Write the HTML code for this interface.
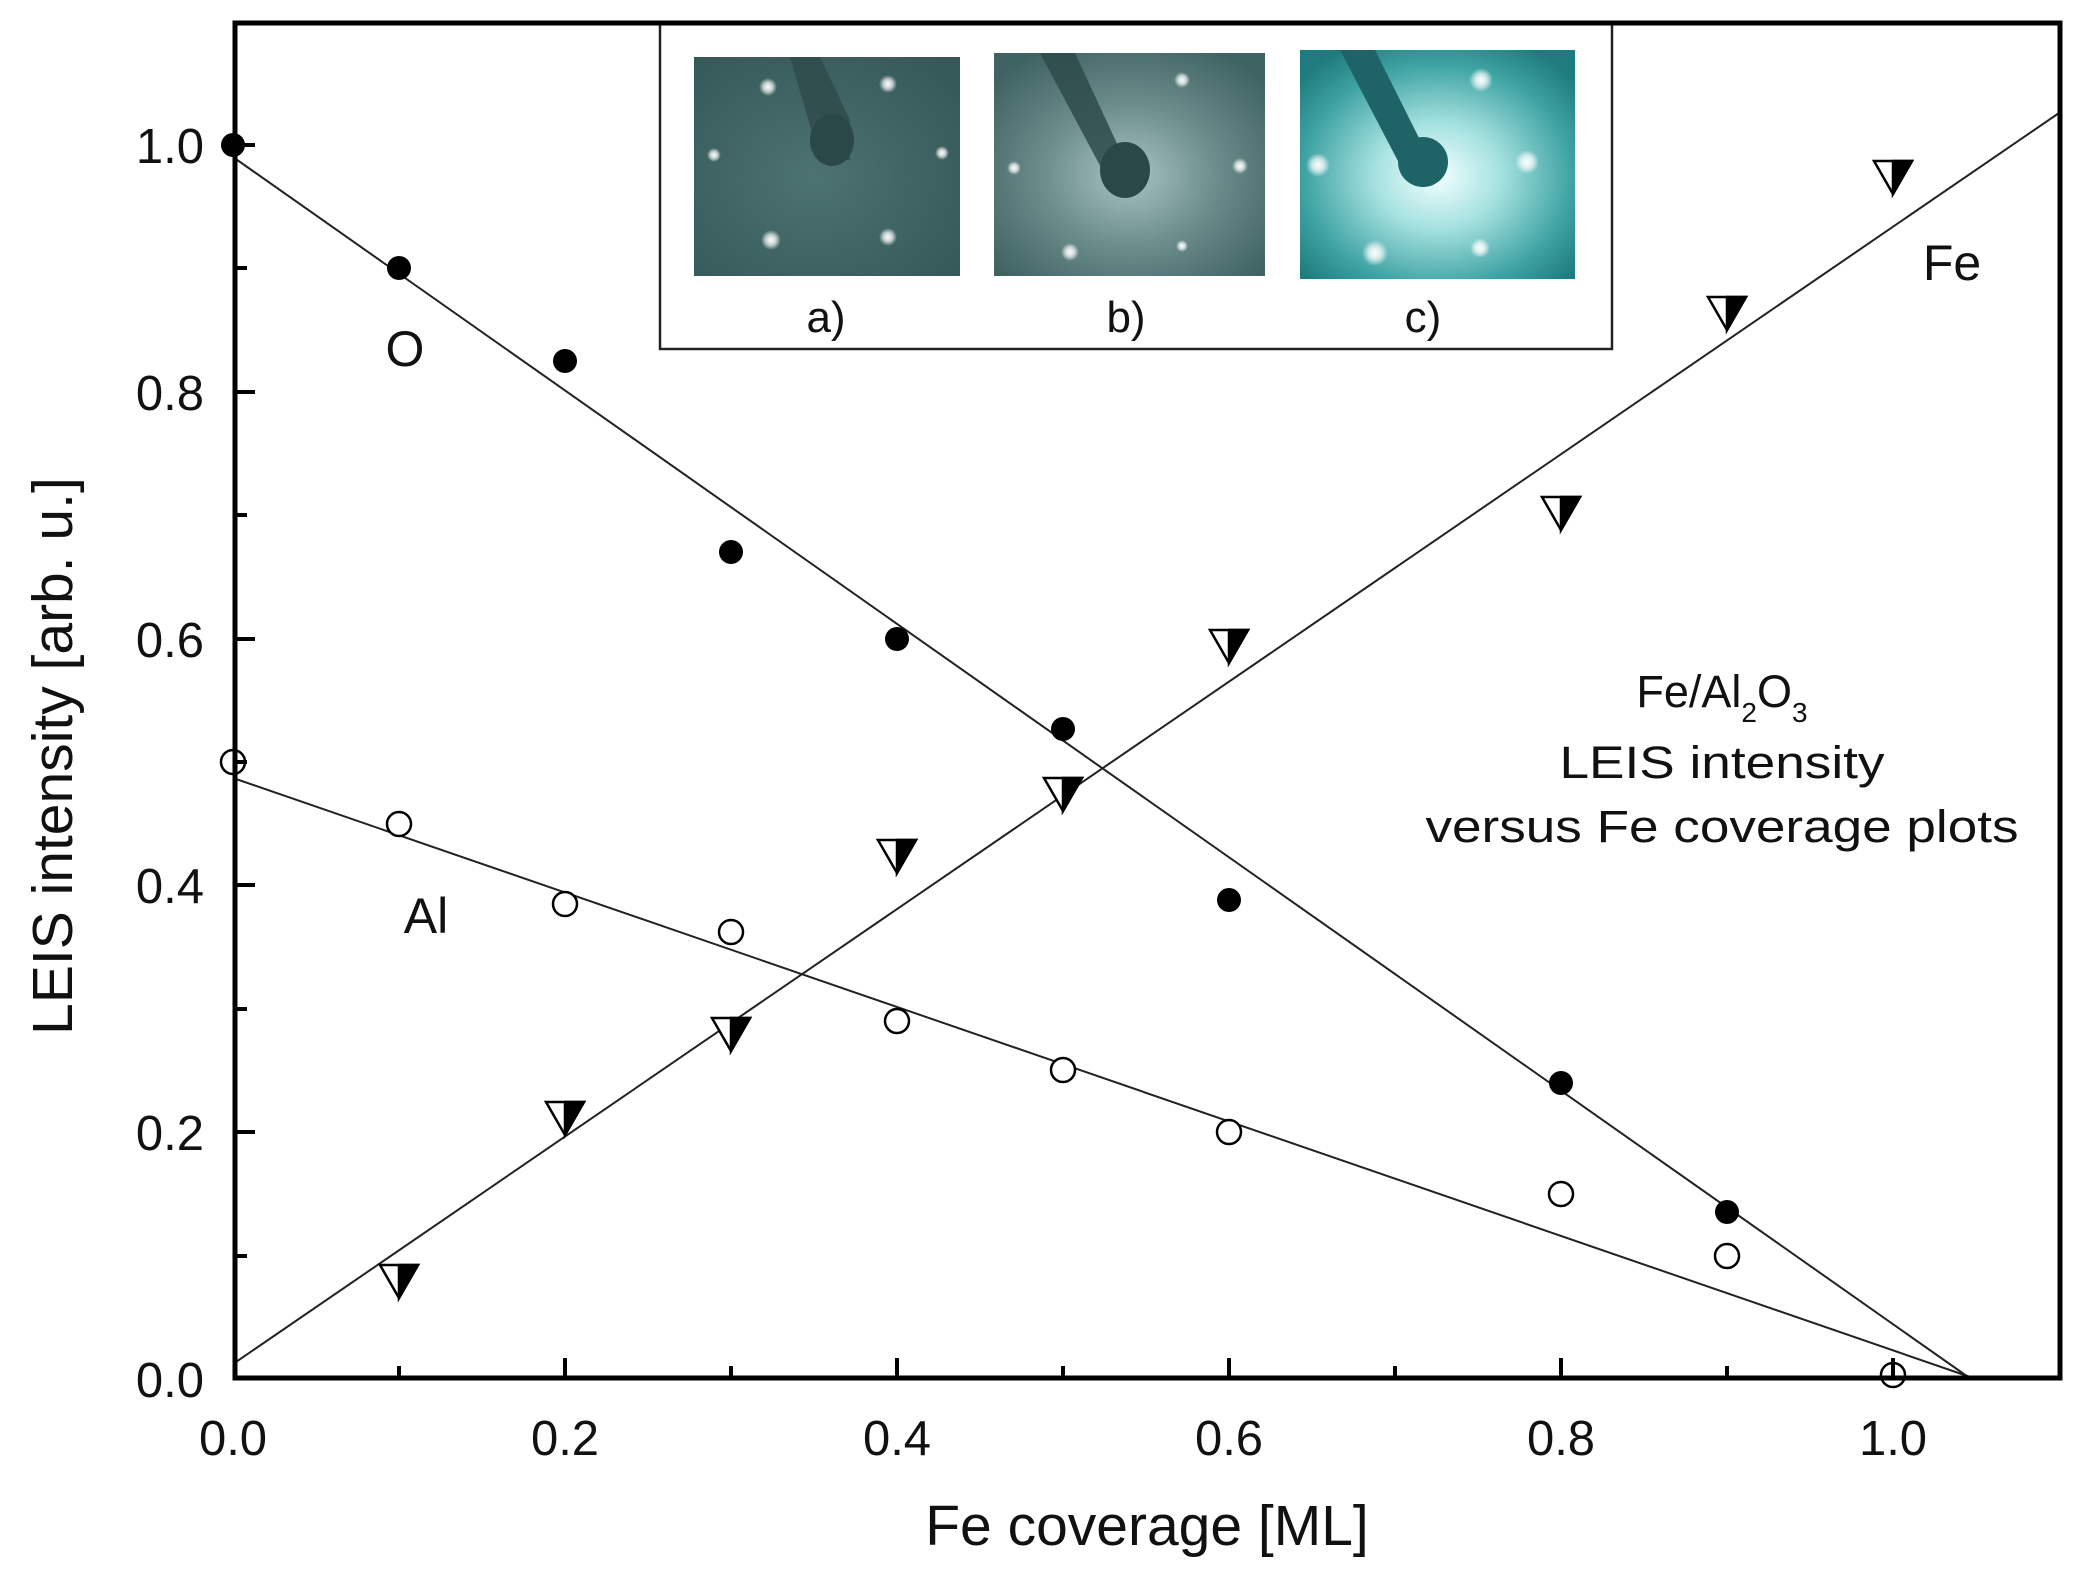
<!DOCTYPE html>
<html><head><meta charset="utf-8"><style>
html,body{margin:0;padding:0;background:#fff;}
svg{display:block;font-family:"Liberation Sans",Arial,sans-serif;}
</style></head><body>
<svg width="2080" height="1589" viewBox="0 0 2080 1589" xmlns="http://www.w3.org/2000/svg">
<defs>
<radialGradient id="ga" cx="0.45" cy="0.55" r="0.7"><stop offset="0" stop-color="#4d7272"/><stop offset="1" stop-color="#355858"/></radialGradient>
<radialGradient id="gb" cx="0.5" cy="0.55" r="0.65"><stop offset="0" stop-color="#a9c4c2"/><stop offset="0.5" stop-color="#6a8c8b"/><stop offset="1" stop-color="#3f6262"/></radialGradient>
<radialGradient id="gc" cx="0.5" cy="0.55" r="0.65"><stop offset="0" stop-color="#f2ffff"/><stop offset="0.35" stop-color="#a6e2e0"/><stop offset="0.75" stop-color="#3fa3a3"/><stop offset="1" stop-color="#1f7c7e"/></radialGradient>
<radialGradient id="spot"><stop offset="0" stop-color="#fff"/><stop offset="0.5" stop-color="#fff" stop-opacity="0.7"/><stop offset="1" stop-color="#fff" stop-opacity="0"/></radialGradient>
</defs>

<rect x="660" y="24" width="952" height="325" fill="#fff" stroke="#222" stroke-width="2.5"/>
<rect x="694" y="57" width="266" height="219" fill="url(#ga)"/>
<path d="M790 57 L820 57 L850 120 L850 160 L820 160 Z" fill="#2d4a4a" opacity="0.8"/>
<ellipse cx="832" cy="140" rx="22" ry="26" fill="#2b4848"/>
<g fill="url(#spot)"><circle cx="768" cy="87" r="9"/><circle cx="888" cy="84" r="9"/><circle cx="714" cy="155" r="7"/><circle cx="942" cy="153" r="7"/><circle cx="771" cy="240" r="10"/><circle cx="888" cy="237" r="9"/></g>
<rect x="994" y="53" width="271" height="223" fill="url(#gb)"/>
<path d="M1040 53 L1075 53 L1120 150 L1105 175 Z" fill="#2d4a4a" opacity="0.85"/>
<ellipse cx="1125" cy="170" rx="25" ry="28" fill="#2b4848"/>
<g fill="url(#spot)"><circle cx="1182" cy="80" r="8"/><circle cx="1014" cy="168" r="7"/><circle cx="1240" cy="166" r="8"/><circle cx="1070" cy="252" r="9"/><circle cx="1182" cy="246" r="6"/></g>
<rect x="1300" y="50" width="275" height="229" fill="url(#gc)"/>
<path d="M1340 50 L1375 50 L1420 140 L1400 165 Z" fill="#1e6466"/>
<ellipse cx="1423" cy="162" rx="25" ry="25" fill="#1e6466"/>
<g fill="url(#spot)"><circle cx="1481" cy="80" r="12"/><circle cx="1318" cy="165" r="12"/><circle cx="1527" cy="162" r="12"/><circle cx="1375" cy="253" r="13"/><circle cx="1480" cy="248" r="10"/></g>
<g font-size="44" text-anchor="middle" fill="#111"><text x="826" y="332">a)</text><text x="1126" y="332">b)</text><text x="1423" y="332">c)</text></g>

<g stroke="#222" stroke-width="2" fill="none">
<line x1="233" y1="157" x2="1971" y2="1379"/>
<line x1="233" y1="778" x2="1976" y2="1379"/>
<line x1="233" y1="1364" x2="2059" y2="113"/>
</g>

<g fill="#000">
<circle cx="233" cy="145" r="12"/><circle cx="399" cy="268" r="12"/><circle cx="565" cy="361" r="12"/><circle cx="731" cy="552" r="12"/><circle cx="897" cy="639" r="12"/><circle cx="1063" cy="729" r="12"/><circle cx="1229" cy="900" r="12"/><circle cx="1561" cy="1083" r="12"/><circle cx="1727" cy="1212" r="12"/>
</g>
<g fill="#fff" stroke="#000" stroke-width="2.5">
<circle cx="233" cy="762" r="12"/><circle cx="399" cy="824" r="12"/><circle cx="565" cy="904" r="12"/><circle cx="731" cy="932" r="12"/><circle cx="897" cy="1021" r="12"/><circle cx="1063" cy="1070" r="12"/><circle cx="1229" cy="1132" r="12"/><circle cx="1561" cy="1194" r="12"/><circle cx="1727" cy="1256" r="12"/><circle cx="1893" cy="1375" r="12"/>
</g>
<g stroke="#000" stroke-width="2.5" stroke-linejoin="miter">
<g transform="translate(399,1280)"><path d="M-19 -15 L19 -15 L0 18 Z" fill="#fff"/><path d="M0 -15 L19 -15 L0 18 Z" fill="#000"/></g>
<g transform="translate(565,1117)"><path d="M-19 -15 L19 -15 L0 18 Z" fill="#fff"/><path d="M0 -15 L19 -15 L0 18 Z" fill="#000"/></g>
<g transform="translate(731,1033)"><path d="M-19 -15 L19 -15 L0 18 Z" fill="#fff"/><path d="M0 -15 L19 -15 L0 18 Z" fill="#000"/></g>
<g transform="translate(897,855)"><path d="M-19 -15 L19 -15 L0 18 Z" fill="#fff"/><path d="M0 -15 L19 -15 L0 18 Z" fill="#000"/></g>
<g transform="translate(1063,793)"><path d="M-19 -15 L19 -15 L0 18 Z" fill="#fff"/><path d="M0 -15 L19 -15 L0 18 Z" fill="#000"/></g>
<g transform="translate(1229,645)"><path d="M-19 -15 L19 -15 L0 18 Z" fill="#fff"/><path d="M0 -15 L19 -15 L0 18 Z" fill="#000"/></g>
<g transform="translate(1561,512)"><path d="M-19 -15 L19 -15 L0 18 Z" fill="#fff"/><path d="M0 -15 L19 -15 L0 18 Z" fill="#000"/></g>
<g transform="translate(1727,312)"><path d="M-19 -15 L19 -15 L0 18 Z" fill="#fff"/><path d="M0 -15 L19 -15 L0 18 Z" fill="#000"/></g>
<g transform="translate(1893,176)"><path d="M-19 -15 L19 -15 L0 18 Z" fill="#fff"/><path d="M0 -15 L19 -15 L0 18 Z" fill="#000"/></g>
</g>

<rect x="235" y="23" width="1825" height="1355" fill="none" stroke="#000" stroke-width="5"/>
<g stroke="#000" stroke-width="4">
<line x1="399" y1="1378" x2="399" y2="1366"/><line x1="565" y1="1378" x2="565" y2="1358"/>
<line x1="731" y1="1378" x2="731" y2="1366"/><line x1="897" y1="1378" x2="897" y2="1358"/>
<line x1="1063" y1="1378" x2="1063" y2="1366"/><line x1="1229" y1="1378" x2="1229" y2="1358"/>
<line x1="1395" y1="1378" x2="1395" y2="1366"/><line x1="1561" y1="1378" x2="1561" y2="1358"/>
<line x1="1727" y1="1378" x2="1727" y2="1366"/><line x1="1893" y1="1378" x2="1893" y2="1358"/>
<line x1="235" y1="1256" x2="247" y2="1256"/><line x1="235" y1="1132" x2="255" y2="1132"/>
<line x1="235" y1="1009" x2="247" y2="1009"/><line x1="235" y1="885" x2="255" y2="885"/>
<line x1="235" y1="762" x2="247" y2="762"/><line x1="235" y1="639" x2="255" y2="639"/>
<line x1="235" y1="515" x2="247" y2="515"/><line x1="235" y1="392" x2="255" y2="392"/>
<line x1="235" y1="268" x2="247" y2="268"/><line x1="235" y1="145" x2="255" y2="145"/>
</g>
<g font-size="49" fill="#111" text-anchor="end">
<text x="204" y="1397">0.0</text><text x="204" y="1150">0.2</text><text x="204" y="903">0.4</text><text x="204" y="657">0.6</text><text x="204" y="410">0.8</text><text x="204" y="163">1.0</text>
</g>
<g font-size="49" fill="#111" text-anchor="middle">
<text x="233" y="1455">0.0</text><text x="565" y="1455">0.2</text><text x="897" y="1455">0.4</text><text x="1229" y="1455">0.6</text><text x="1561" y="1455">0.8</text><text x="1893" y="1455">1.0</text>
</g>
<text x="1147" y="1545" font-size="57" text-anchor="middle" fill="#111">Fe coverage [ML]</text>
<text transform="translate(72,756) rotate(-90)" font-size="57" text-anchor="middle" fill="#111">LEIS intensity [arb. u.]</text>

<g font-size="50" fill="#111" text-anchor="middle">
<text x="405" y="366">O</text>
<text x="426" y="933">Al</text>
<text x="1952" y="280">Fe</text>
</g>
<g font-size="45" fill="#111" text-anchor="middle">
<text x="1722" y="707">Fe/Al<tspan font-size="28" dy="15">2</tspan><tspan dy="-15">O</tspan><tspan font-size="28" dy="15">3</tspan></text>
<text x="1722" y="778" textLength="325" lengthAdjust="spacingAndGlyphs">LEIS intensity</text>
<text x="1722" y="842" textLength="593" lengthAdjust="spacingAndGlyphs">versus Fe coverage plots</text>
</g>
</svg>
</body></html>
